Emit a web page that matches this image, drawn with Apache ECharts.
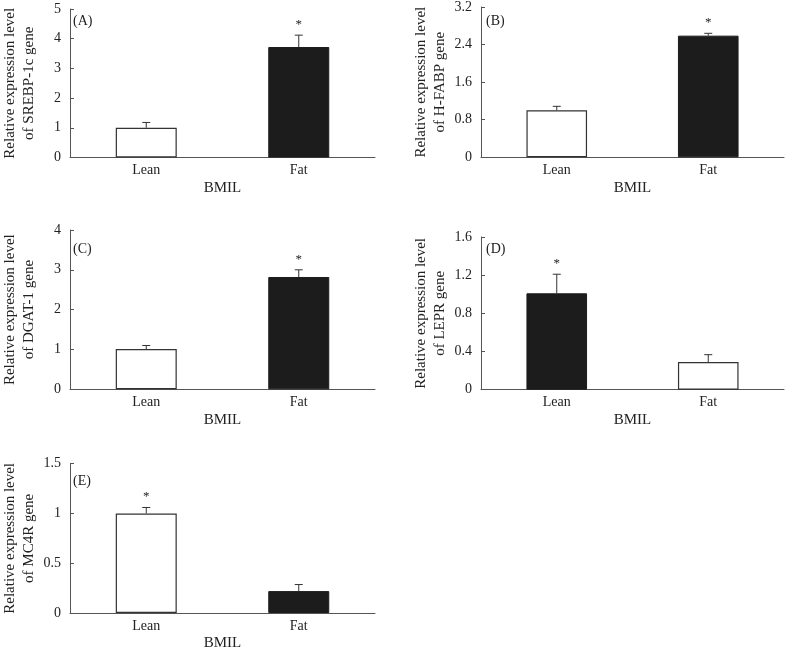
<!DOCTYPE html>
<html>
<head>
<meta charset="utf-8">
<script src="https://cdn.jsdelivr.net/npm/echarts@6/dist/echarts.min.js"></script>
<style>html,body{margin:0;padding:0;background:#fff}#c{width:785px;height:652px}</style>
</head>
<body>
<div id="c"></div>
<script>
const categories = ['Lean', 'Fat'];
const panelLabels = ['(A)', '(B)', '(C)', '(D)', '(E)'];
const geneNames = ['SREBP-1c', 'H-FABP', 'DGAT-1', 'LEPR', 'MC4R'];
const meansA = [1.0, 3.72], errA = [0.18, 0.40], sigA = ['', '*'];
const meansB = [1.0, 2.59], errB = [0.085, 0.05], sigB = ['', '*'];
const meansC = [1.01, 2.82], errC = [0.09, 0.18], sigC = ['', '*'];
const meansD = [1.01, 0.29], errD = [0.20, 0.077], sigD = ['*', ''];
const meansE = [1.0, 0.22], errE = [0.06, 0.066], sigE = ['*', ''];
const yMax = [5, 3.2, 4, 1.6, 1.5];
const yInterval = [1, 0.8, 1, 0.4, 0.5];
const darkBar = [[false, true], [false, true], [false, true], [true, false], [false, true]];

const means = [meansA, meansB, meansC, meansD, meansE];
const errs = [errA, errB, errC, errD, errE];
const sigs = [sigA, sigB, sigC, sigD, sigE];

const FONT = 'Liberation Serif';
const TXT = '#222';
const AX = '#555';

const grids = [
  {left: 65, top: 9, width: 310, height: 148.5},
  {left: 481, top: 4, width: 303, height: 153.3},
  {left: 65, top: 230, width: 310, height: 159.3},
  {left: 481, top: 237, width: 303, height: 152.7},
  {left: 66, top: 463.7, width: 309, height: 152.3}
];
const nameGaps = [31, 31, 31, 31, 31];
const labelPos = [[73, 14], [486, 14], [73, 242], [486, 242], [73, 474]];

const xAxes = [], yAxes = [], series = [], graphics = [];
grids.forEach((g, i) => {
  xAxes.push({
    type: 'category', gridIndex: i, data: categories,
    name: 'BMIL', nameLocation: 'middle', nameGap: 23,
    nameTextStyle: {fontFamily: FONT, fontSize: 15, color: TXT},
    axisLine: {lineStyle: {color: AX, width: 1}},
    axisTick: {inside: true, length: 4, lineStyle: {color: AX}},
    axisLabel: {fontFamily: FONT, fontSize: 14, color: TXT, margin: 6}
  });
  yAxes.push({
    type: 'value', gridIndex: i, min: 0, max: yMax[i], interval: yInterval[i],
    name: 'Relative expression level\nof ' + geneNames[i] + ' gene',
    nameLocation: 'middle', nameRotate: 90, nameGap: nameGaps[i],
    nameTextStyle: {fontFamily: FONT, fontSize: 15, lineHeight: 19, color: TXT},
    axisLine: {show: true, lineStyle: {color: AX, width: 1}},
    axisTick: {show: true, inside: true, length: 4, lineStyle: {color: AX}},
    splitLine: {show: false},
    axisLabel: {fontFamily: FONT, fontSize: 14, color: TXT, margin: 9}
  });
  series.push({
    type: 'bar', xAxisIndex: i, yAxisIndex: i, barWidth: '40%',
    data: means[i].map((v, j) => ({
      value: v,
      itemStyle: darkBar[i][j]
        ? {color: '#1c1c1c', borderColor: '#1c1c1c', borderWidth: 1}
        : {color: '#ffffff', borderColor: '#333', borderWidth: 1.2}
    })),
    silent: true
  });
  series.push({
    type: 'custom', xAxisIndex: i, yAxisIndex: i, silent: true,
    data: means[i].map((v, j) => [j, v, errs[i][j]]),
    encode: {x: 0, y: 1},
    renderItem: function (params, api) {
      const idx = api.value(0), m = api.value(1), e = api.value(2);
      const sig = sigs[i][idx];
      const base = api.coord([idx, m]);
      const top = api.coord([idx, m + e]);
      const cap = 4;
      const children = [
        {type: 'line', shape: {x1: base[0], y1: base[1], x2: top[0], y2: top[1]}, style: {stroke: '#333', lineWidth: 1}},
        {type: 'line', shape: {x1: top[0] - cap, y1: top[1], x2: top[0] + cap, y2: top[1]}, style: {stroke: '#333', lineWidth: 1}}
      ];
      if (sig) {
        children.push({type: 'text', x: top[0], y: top[1] - 4,
          style: {text: sig, fontFamily: FONT, fontSize: 13, fill: TXT, align: 'center', verticalAlign: 'bottom'}});
      }
      return {type: 'group', children: children};
    }
  });
  graphics.push({
    type: 'text', left: labelPos[i][0], top: labelPos[i][1],
    style: {text: panelLabels[i], fontFamily: FONT, fontSize: 14, fill: TXT}
  });
});

const chart = echarts.init(document.getElementById('c'), null, {renderer: 'canvas'});
chart.setOption({
  animation: false,
  backgroundColor: '#fff',
  grid: grids,
  xAxis: xAxes,
  yAxis: yAxes,
  series: series,
  graphic: graphics
});
</script>
</body>
</html>
